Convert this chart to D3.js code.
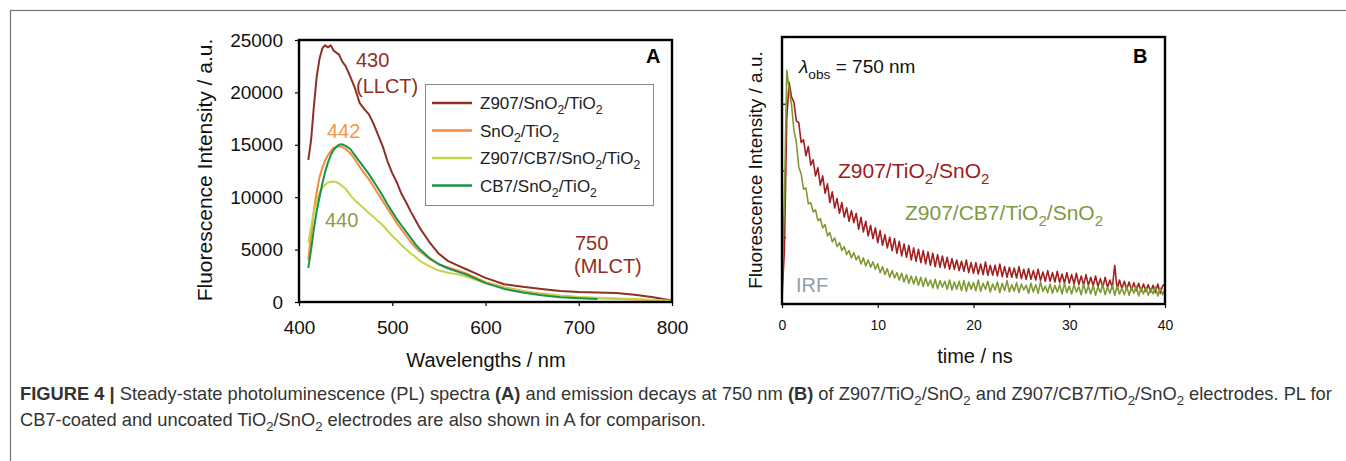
<!DOCTYPE html>
<html>
<head>
<meta charset="utf-8">
<script src="https://cdn.jsdelivr.net/npm/d3@7"></script>
<style>
  body { margin: 0; background: #fff; }
  svg { display: block; font-family: "Liberation Sans", Arial, sans-serif; }
</style>
</head>
<body>
<div id="chart"></div>
<script>
// ---- Panel A: steady-state PL spectra ----
const wavelengths = [410, 413, 416, 419, 422, 425, 428, 431, 434, 437, 440, 443, 446, 450, 455, 460, 465, 470, 475, 480,
  485, 490, 495, 500, 505, 510, 515, 520, 525, 530, 540, 550, 560, 570, 580, 590, 600, 620, 640, 660,
  680, 700, 720, 740, 760, 780, 800];
const plZ907 = [13550, 15500, 18700, 21500, 23200, 24200, 24500, 24300, 24500, 24000, 23800, 23600, 23000, 22500, 21500, 20400, 19000, 18400, 17900, 17000,
  15900, 14800, 13400, 12300, 11400, 10300, 9500, 8600, 7800, 7000, 5700, 4600, 3900, 3500, 3100, 2700, 2300, 1700, 1450, 1250,
  1050, 950, 900, 850, 700, 450, 150];
const plBare = [4000, 6500, 8800, 10500, 11900, 12800, 13500, 14000, 14400, 14700, 14800, 14850, 14800, 14600, 14200, 13600, 12900, 12300, 11700, 11000,
  10300, 9600, 8900, 8200, 7500, 6900, 6300, 5700, 5200, 4800, 4100, 3600, 3300, 3000, 2700, 2300, 1900, 1400, 1050, 800,
  600, 450, 350, 300, 250, 180, 100];
const plZ907CB7 = [5650, 7200, 8600, 9600, 10400, 10900, 11200, 11400, 11450, 11500, 11450, 11300, 11100, 10800, 10200, 9700, 9300, 8900, 8500, 8100,
  7700, 7300, 6800, 6300, 5900, 5400, 5000, 4600, 4300, 3900, 3400, 3000, 2800, 2650, 2400, 2100, 1800, 1350, 1000, 750,
  600, 480, 400, 330, 280, 200, 120];
const plCB7 = [3250, 5000, 7000, 8700, 10000, 11300, 12400, 13300, 14000, 14500, 14800, 15000, 15050, 14900, 14600, 14000, 13400, 12800, 12200, 11500,
  10800, 10100, 9300, 8600, 7900, 7300, 6700, 6100, 5500, 5000, 4200, 3600, 3200, 2900, 2600, 2200, 1800, 1250, 900, 650,
  450, 350, 280, null, null, null, null];
const seriesA = [
  { name: "Z907/SnO_2/TiO_2", values: plZ907, color: "#8e3025" },
  { name: "SnO_2/TiO_2", values: plBare, color: "#f58b3b" },
  { name: "Z907/CB7/SnO_2/TiO_2", values: plZ907CB7, color: "#c5d44a" },
  { name: "CB7/SnO_2/TiO_2", values: plCB7, color: "#17934a" }
];
const xTicksA = [400, 500, 600, 700, 800];
const yTicksA = [0, 5000, 10000, 15000, 20000, 25000];

// ---- Panel B: emission decays at 750 nm (time step 0.25 ns from 0 ns) ----
const decayStart = 0, decayStep = 0.25;
const decayZ907 = [
  0.10, 0.80, 2.80, 3.32, 3.10, 3.02, 2.74, 2.72,
  2.42, 2.46, 2.22, 2.36, 2.08, 2.16, 1.92, 2.04,
  1.78, 1.92, 1.66, 1.80, 1.52, 1.68, 1.44, 1.58,
  1.36, 1.52, 1.30, 1.44, 1.24, 1.40, 1.22, 1.36,
  1.12, 1.30, 1.08, 1.24, 1.02, 1.18, 0.98, 1.14,
  0.92, 1.10, 0.88, 1.04, 0.84, 1.00, 0.80, 0.98,
  0.76, 0.94, 0.72, 0.90, 0.70, 0.88, 0.66, 0.84,
  0.64, 0.82, 0.62, 0.80, 0.60, 0.78, 0.58, 0.76,
  0.56, 0.74, 0.55, 0.72, 0.54, 0.70, 0.52, 0.68,
  0.52, 0.66, 0.50, 0.64, 0.49, 0.66, 0.47, 0.62,
  0.46, 0.62, 0.45, 0.60, 0.44, 0.63, 0.43, 0.58,
  0.43, 0.58, 0.42, 0.60, 0.41, 0.56, 0.40, 0.55,
  0.40, 0.54, 0.39, 0.56, 0.38, 0.52, 0.37, 0.53,
  0.37, 0.50, 0.36, 0.52, 0.35, 0.48, 0.34, 0.50,
  0.34, 0.47, 0.33, 0.49, 0.32, 0.45, 0.31, 0.47,
  0.31, 0.44, 0.30, 0.46, 0.29, 0.42, 0.28, 0.44,
  0.28, 0.40, 0.27, 0.42, 0.26, 0.38, 0.25, 0.40,
  0.25, 0.36, 0.24, 0.58, 0.22, 0.36, 0.23, 0.34,
  0.22, 0.33, 0.21, 0.32, 0.20, 0.31, 0.19, 0.30,
  0.19, 0.29, 0.18, 0.28, 0.17, 0.30, 0.16, 0.27,
  0.30];
const decayZ907CB7 = [
  0.20, 1.60, 3.50, 3.22, 2.98, 2.60, 2.42, 2.05,
  1.95, 1.72, 1.74, 1.50, 1.52, 1.38, 1.41, 1.25,
  1.28, 1.14, 1.19, 1.02, 1.07, 0.93, 0.99, 0.86,
  0.92, 0.80, 0.86, 0.74, 0.80, 0.69, 0.77, 0.66,
  0.72, 0.60, 0.69, 0.57, 0.66, 0.55, 0.63, 0.52,
  0.60, 0.47, 0.56, 0.44, 0.53, 0.40, 0.50, 0.39,
  0.47, 0.36, 0.46, 0.33, 0.44, 0.31, 0.42, 0.30,
  0.41, 0.28, 0.40, 0.26, 0.39, 0.27, 0.36, 0.24,
  0.37, 0.23, 0.35, 0.25, 0.34, 0.22, 0.36, 0.21,
  0.33, 0.22, 0.34, 0.20, 0.35, 0.19, 0.33, 0.22,
  0.32, 0.20, 0.36, 0.19, 0.31, 0.22, 0.34, 0.18,
  0.30, 0.21, 0.33, 0.17, 0.31, 0.20, 0.35, 0.18,
  0.29, 0.19, 0.32, 0.17, 0.30, 0.21, 0.28, 0.16,
  0.31, 0.18, 0.29, 0.16, 0.33, 0.19, 0.27, 0.17,
  0.30, 0.16, 0.28, 0.18, 0.29, 0.15, 0.31, 0.17,
  0.27, 0.15, 0.29, 0.18, 0.26, 0.14, 0.30, 0.16,
  0.27, 0.15, 0.28, 0.13, 0.26, 0.17, 0.29, 0.14,
  0.25, 0.16, 0.28, 0.13, 0.27, 0.15, 0.24, 0.14,
  0.26, 0.13, 0.25, 0.16, 0.27, 0.12, 0.24, 0.15,
  0.25, 0.13, 0.23, 0.15, 0.26, 0.12, 0.24, 0.14,
  0.22];
const seriesB = [
  { values: decayZ907, color: "#a01f1f" },
  { values: decayZ907CB7, color: "#7f9a33" }
];
const xTicksB = [0, 10, 20, 30, 40];
const yTicksB = [0, 1, 2, 3, 4];

// "SnO_2" -> [["SnO",""],["2","sub"]]
function chem(str, style = "") {
  const out = [];
  str.split(/_(\w)/).forEach((s, i) => { if (s) out.push([s, i % 2 ? "sub" : style]); });
  return out;
}

function rich(text, segs, fs) {
  let shifted = false;
  segs.forEach(([s, style]) => {
    const t = text.append("tspan").text(s);
    if (style === "sub") {
      t.attr("font-size", fs * 0.72).attr("dy", shifted ? 0 : fs * 0.3);
      shifted = true;
    } else {
      if (shifted) { t.attr("dy", -fs * 0.3); shifted = false; }
      if (style === "b") t.attr("font-weight", "bold");
      if (style === "i") t.attr("font-style", "italic");
    }
  });
  return text;
}

const svg = d3.select("#chart").append("svg")
  .attr("width", 1346)
  .attr("height", 461);

// outer figure frame
svg.append("rect")
  .attr("x", 10.5).attr("y", 10.5)
  .attr("width", 1400).attr("height", 500)
  .attr("fill", "none").attr("stroke", "#777").attr("stroke-width", 1.2);

// ================= Panel A =================
const xA = d3.scaleLinear().domain([400, 800]).range([299, 672]);
const yA = d3.scaleLinear().domain([0, 25000]).range([302, 40]);

const gA = svg.append("g");

gA.append("g")
  .attr("transform", `translate(0,${yA(0)})`)
  .call(d3.axisBottom(xA).tickValues(xTicksA).tickSizeInner(4).tickSizeOuter(0).tickPadding(15))
  .call(g => g.select(".domain").remove())
  .call(g => g.selectAll("line").attr("stroke", "#000").attr("stroke-width", 1.2))
  .call(g => g.selectAll("text").attr("font-size", 19).attr("fill", "#111").attr("font-family", null));

gA.append("g")
  .attr("transform", `translate(${xA(400)},0)`)
  .call(d3.axisLeft(yA).tickValues(yTicksA).tickFormat(d3.format("d")).tickSizeInner(4).tickSizeOuter(0).tickPadding(12))
  .call(g => g.select(".domain").remove())
  .call(g => g.selectAll("line").attr("stroke", "#000").attr("stroke-width", 1.2))
  .call(g => g.selectAll("text").attr("font-size", 19).attr("fill", "#111").attr("font-family", null));

const lineA = d3.line()
  .defined(d => d[1] != null)
  .x(d => xA(d[0]))
  .y(d => yA(d[1]));

gA.selectAll(".specA")
  .data(seriesA)
  .enter()
  .append("path")
  .attr("class", "specA")
  .attr("fill", "none")
  .attr("stroke", d => d.color)
  .attr("stroke-width", 2)
  .attr("stroke-linejoin", "round")
  .attr("d", d => lineA(wavelengths.map((w, i) => [w, d.values[i]])));

// frame
gA.append("rect")
  .attr("x", xA(400)).attr("y", yA(25000))
  .attr("width", xA(800) - xA(400)).attr("height", yA(0) - yA(25000))
  .attr("fill", "none").attr("stroke", "#000").attr("stroke-width", 2.4);

gA.append("text")
  .attr("x", 646).attr("y", 63)
  .attr("font-size", 20).attr("font-weight", "bold")
  .text("A");

// legend
const legA = gA.append("g");
legA.append("rect")
  .attr("x", 425.5).attr("y", 84.5).attr("width", 228).attr("height", 121)
  .attr("fill", "#fff").attr("stroke", "#888").attr("stroke-width", 1);
seriesA.forEach((s, i) => {
  const cy = 103 + i * 27.5;
  legA.append("line")
    .attr("x1", 432).attr("x2", 472).attr("y1", cy).attr("y2", cy)
    .attr("stroke", s.color).attr("stroke-width", 2.4);
  rich(legA.append("text").attr("x", 480).attr("y", cy + 6).attr("font-size", 17).attr("fill", "#222"),
    chem(s.name), 17);
});

// peak annotations
const notesA = [
  { x: 356, y: 67, text: "430", color: "#8e3025" },
  { x: 356, y: 93, text: "(LLCT)", color: "#8e3025" },
  { x: 327, y: 138, text: "442", color: "#f79646" },
  { x: 325, y: 227, text: "440", color: "#8c9c45" },
  { x: 575, y: 250, text: "750", color: "#8e3025" },
  { x: 574, y: 273, text: "(MLCT)", color: "#8e3025" }
];
gA.selectAll(".noteA")
  .data(notesA)
  .enter()
  .append("text")
  .attr("class", "noteA")
  .attr("x", d => d.x).attr("y", d => d.y)
  .attr("font-size", 20)
  .attr("fill", d => d.color)
  .text(d => d.text);

gA.append("text")
  .attr("transform", "translate(212,170) rotate(-90)")
  .attr("text-anchor", "middle")
  .attr("font-size", 21)
  .attr("fill", "#111")
  .text("Fluorescence Intensity / a.u.");

gA.append("text")
  .attr("x", 486).attr("y", 367)
  .attr("text-anchor", "middle")
  .attr("font-size", 20)
  .attr("fill", "#111")
  .text("Wavelengths / nm");

// ================= Panel B =================
const xB = d3.scaleLinear().domain([0, 40]).range([782, 1165]);
const yB = d3.scaleLinear().domain([0, 4]).range([304, 37]);

const gB = svg.append("g");

gB.append("g")
  .attr("transform", `translate(0,${yB(0)})`)
  .call(d3.axisBottom(xB).tickValues(xTicksB).tickSizeInner(4).tickSizeOuter(0).tickPadding(12))
  .call(g => g.select(".domain").remove())
  .call(g => g.selectAll("line").attr("stroke", "#000").attr("stroke-width", 1.2))
  .call(g => g.selectAll("text").attr("font-size", 14).attr("fill", "#111").attr("font-family", null));

gB.append("g")
  .attr("transform", `translate(${xB(0)},0)`)
  .call(d3.axisRight(yB).tickValues(yTicksB).tickFormat("").tickSizeInner(4).tickSizeOuter(0))
  .call(g => g.select(".domain").remove())
  .call(g => g.selectAll("line").attr("stroke", "#000").attr("stroke-width", 1.2));

const lineB = d3.line()
  .x((d, i) => xB(decayStart + i * decayStep))
  .y(d => yB(d));

gB.selectAll(".decayB")
  .data(seriesB)
  .enter()
  .append("path")
  .attr("class", "decayB")
  .attr("fill", "none")
  .attr("stroke", d => d.color)
  .attr("stroke-width", 1.6)
  .attr("stroke-linejoin", "round")
  .attr("d", d => lineB(d.values));

gB.append("rect")
  .attr("x", xB(0)).attr("y", yB(4))
  .attr("width", xB(40) - xB(0)).attr("height", yB(0) - yB(4))
  .attr("fill", "none").attr("stroke", "#000").attr("stroke-width", 2.4);

gB.append("text")
  .attr("x", 1133).attr("y", 63)
  .attr("font-size", 20).attr("font-weight", "bold")
  .text("B");

rich(gB.append("text").attr("x", 799).attr("y", 73).attr("font-size", 19).attr("fill", "#111"),
  [["λ", "i"], ["obs", "sub"], [" = 750 nm", ""]], 19);

rich(gB.append("text").attr("x", 838).attr("y", 178).attr("font-size", 21).attr("fill", "#9b2020"),
  chem("Z907/TiO_2/SnO_2"), 21);
rich(gB.append("text").attr("x", 905).attr("y", 220).attr("font-size", 21).attr("fill", "#7c9a3f"),
  chem("Z907/CB7/TiO_2/SnO_2"), 21);

gB.append("text")
  .attr("x", 796).attr("y", 292)
  .attr("font-size", 20).attr("fill", "#8fa0ac")
  .text("IRF");

gB.append("text")
  .attr("transform", "translate(762,170) rotate(-90)")
  .attr("text-anchor", "middle")
  .attr("font-size", 19)
  .attr("fill", "#111")
  .text("Fluorescence Intensity / a.u.");

gB.append("text")
  .attr("x", 975).attr("y", 363)
  .attr("text-anchor", "middle")
  .attr("font-size", 20)
  .attr("fill", "#111")
  .text("time / ns");

// ================= Caption =================
const cap1 = [["FIGURE 4 |", "b"], [" Steady-state photoluminescence (PL) spectra ", ""], ["(A)", "b"],
  [" and emission decays at 750 nm ", ""], ["(B)", "b"], [" of ", ""]]
  .concat(chem("Z907/TiO_2/SnO_2"), [[" and ", ""]], chem("Z907/CB7/TiO_2/SnO_2"), [[" electrodes. PL for", ""]]);
const cap2 = [["CB7-coated and uncoated ", ""]].concat(chem("TiO_2/SnO_2"), [[" electrodes are also shown in A for comparison.", ""]]);

// size the caption so line 1 runs from x=20 to about x=1333, as in the figure
let capFs = 16;
const probe = rich(svg.append("text").attr("font-size", capFs), cap1, capFs);
capFs = capFs * 1313 / probe.node().getComputedTextLength();
probe.remove();

rich(svg.append("text").attr("x", 20).attr("y", 400).attr("font-size", capFs).attr("fill", "#333"), cap1, capFs);
rich(svg.append("text").attr("x", 20).attr("y", 426).attr("font-size", capFs).attr("fill", "#333"), cap2, capFs);
</script>
</body>
</html>
